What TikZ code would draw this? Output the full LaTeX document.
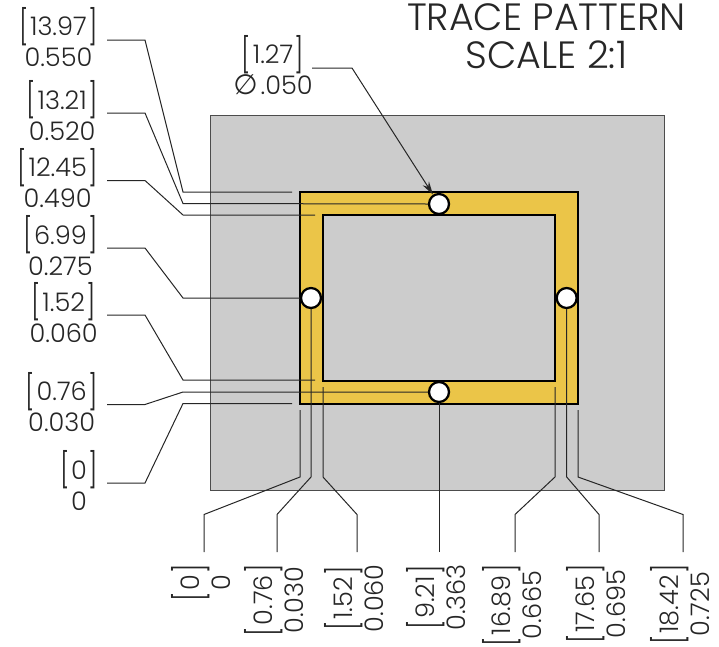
\documentclass[tikz,border=0pt]{standalone}
\usepackage{fontspec}
\usepackage{graphicx}
\usetikzlibrary{arrows.meta}
\setmainfont{Poppins Light}
\newfontfamily\djv{DejaVu Sans}
\newcommand{\brk}[1]{\smash{\scalebox{1}[1.34]{\raisebox{-0.10em}{[}}}\kern0.06em #1\kern0.06em\smash{\scalebox{1}[1.34]{\raisebox{-0.10em}{]}}}}
\definecolor{pcb}{RGB}{204,204,204}
\definecolor{cu}{RGB}{235,197,72}
\tikzset{
 x=0.75pt,y=-0.75pt,
 dimlabel/.style={inner sep=0pt,align=center,font=\fontsize{19.2}{23.2}\selectfont,text=black!85},
 vertlabel/.style={dimlabel,rotate=90,anchor=east},
 leader/.style={draw=black!85,line width=0.75pt,line join=miter},
 hole/.style={circle,draw=black,fill=white,line width=1.7pt,minimum size=15pt,inner sep=0pt},
 titlelbl/.style={inner sep=0pt,align=center,font=\fontsize{28.5}{28.5}\selectfont,text=black!85},
}
\begin{document}
\begin{tikzpicture}
\useasboundingbox (0,0) rectangle (719,647);
\draw[fill=pcb,draw=black!70,line width=0.75pt] (210.5,115) rectangle (664.5,490.7);
\draw[fill=cu,draw=black,line width=1.6pt,even odd rule] (300,192) rectangle (578,404) (323,215) rectangle (555,380.7);
\node[hole] (htop) at (439,204) {};
\node[hole] (hbot) at (439,392) {};
\node[hole] (hleft) at (311,298) {};
\node[hole] (hright) at (566.7,298) {};
\node[titlelbl] (title) at (546.5,36) {TRACE PATTERN\\SCALE 2:1};
\node[dimlabel,anchor=east] (a) at (98,42) {\brk{13.97}\\0.550};
\node[dimlabel,anchor=east] (b) at (98,115.5) {\brk{13.21}\\0.520};
\node[dimlabel,anchor=east] (c) at (98,183) {\brk{12.45}\\0.490};
\node[dimlabel,anchor=east] (d) at (98,250.5) {\brk{6.99}\\0.275};
\node[dimlabel,anchor=east] (e) at (98,317.5) {\brk{1.52}\\0.060};
\node[dimlabel,anchor=east] (f) at (98,407) {\brk{0.76}\\0.030};
\node[dimlabel,anchor=east] (g) at (98,485.5) {\brk{0}\\0};
\node[dimlabel,anchor=east] (dia) at (313,70) {\brk{1.27}\\{\djv\fontsize{21}{23.2}\selectfont ∅}\kern0.12em.050};
\foreach \n/\t/\s/\x in {p/0/0/206,q/0.76/0.030/279,r/1.52/0.060/359,s/9.21/0.363/441,t/16.89/0.665/517,u/17.65/0.695/601,v/18.42/0.725/685}{
 \node[vertlabel] (\n) at (\x,564) {\brk{\t}\\\s};
}
\foreach \n/\y in {a/40,b/113,c/180.5,d/248,e/315,f/404.5,g/483}{\coordinate (\n s) at (107,\y);\coordinate (\n k) at (145,\y);}
\draw[leader] (as)--(ak)--(183,192)--(292,192);
\draw[leader] (bs)--(bk)--(183,203.5)--(htop.west);
\draw[leader] (cs)--(ck)--(183,215)--(315,215);
\draw[leader] (ds)--(dk)--(183,298)--(hleft.west);
\draw[leader] (es)--(ek)--(183,380)--(315,380);
\draw[leader] (fs)--(fk)--(183,392)--(hbot.west);
\draw[leader] (gs)--(gk)--(183,403.5)--(292,403.5);
\coordinate (dias) at (312,68);
\draw[leader,-{Stealth[length=10pt,width=5.5pt]}] (dias)--(352,68)--(htop);
\draw[leader] (204,552)--(204,514.5)--(300,477)--(300,410);
\draw[leader] (277,552)--(277,514.5)--(311,477)--(hleft.south);
\draw[leader] (357,552)--(357,514.5)--(323,477)--(323,387);
\draw[leader] (439,552)--(hbot.south);
\draw[leader] (515,552)--(515,514.5)--(555,477)--(555,387);
\draw[leader] (599,552)--(599,514.5)--(566.7,477)--(hright.south);
\draw[leader] (683,552)--(683,514.5)--(578,477)--(578,410);
\end{tikzpicture}
\end{document}
